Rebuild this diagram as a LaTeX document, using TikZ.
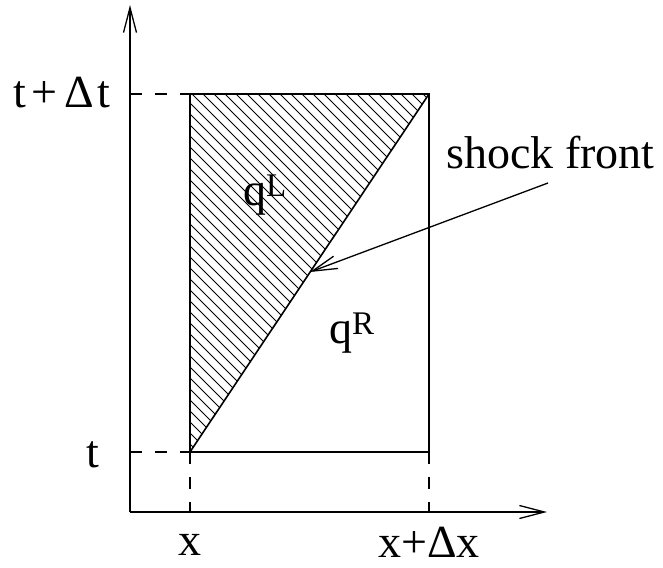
\documentclass[tikz,border=0pt]{standalone}
\usepackage{fontspec}
\setmainfont{Liberation Serif}
\usetikzlibrary{arrows.meta}
\begin{document}
\begin{tikzpicture}[x=1pt,y=-1pt,
  axis/.style={line width=1.3pt,-{Straight Barb[length=25pt,width=13pt,line width=1.3pt]}},
  frame/.style={line width=1.3pt},
  guide/.style={line width=1.3pt,dash pattern=on 12pt off 13pt},
  hatch/.style={line width=0.8pt},
  shockline/.style={line width=1.6pt},
  lbl/.style={inner sep=0pt,font=\fontsize{46}{50}\selectfont},
  pointer/.style={line width=1.3pt,-{Straight Barb[length=25pt,width=13pt,line width=1.3pt]}}]
\useasboundingbox (0,0) rectangle (663,567);
\coordinate (O) at (130,512);
\coordinate (ytip) at (130,5);
\coordinate (xtip) at (547,512);
\coordinate (A) at (190,452);
\coordinate (B) at (429,452);
\coordinate (C) at (429,94);
\coordinate (D) at (190,94);
\coordinate (tA) at (130,452);
\coordinate (tD) at (130,94);
\coordinate (xA) at (190,512);
\coordinate (xB) at (429,512);
\coordinate (S) at (310,272);
\coordinate (P) at (548,183);
% hatching
\begin{scope}
  \clip (A) -- (D) -- (C) -- cycle;
  \foreach \c in {-340,-329,...,270}
    \draw[hatch] (80,{80+\c}) -- (700,{700+\c});
\end{scope}
% axes
\draw[axis] (O) -- (ytip);
\draw[axis] (O) -- (xtip);
% guides
\draw[guide] (tA) -- (A);
\draw[guide] (tD) -- (D);
\draw[guide] (A) -- (xA);
\draw[guide] (B) -- (xB);
% frame
\draw[frame] (A) -- (B) -- (C) -- (D) -- cycle;
\draw[shockline] (A) -- (C);
% labels
\node[lbl,anchor=base east] (tlab) at (99,467) {t};
\node[lbl,anchor=base east] (tdtlab) at (111,108) {t\kern5pt+\kern7pt Δ\kern4pt t};
\node[lbl,anchor=base] (xlab) at (190,555) {x};
\node[lbl,anchor=base] (xdxlab) at (429,557) {x+Δx};
\node[lbl,anchor=base west] (shock) at (446,168) {shock front};
\node[lbl,anchor=base west] (qL) at (243,205) {q\raisebox{9pt}{\fontsize{33}{33}\selectfont L}};
\node[lbl,anchor=base west] (qR) at (329,343) {q\raisebox{9pt}{\fontsize{33}{33}\selectfont R}};
% pointer
\draw[pointer] (P) -- (S);
\end{tikzpicture}
\end{document}
